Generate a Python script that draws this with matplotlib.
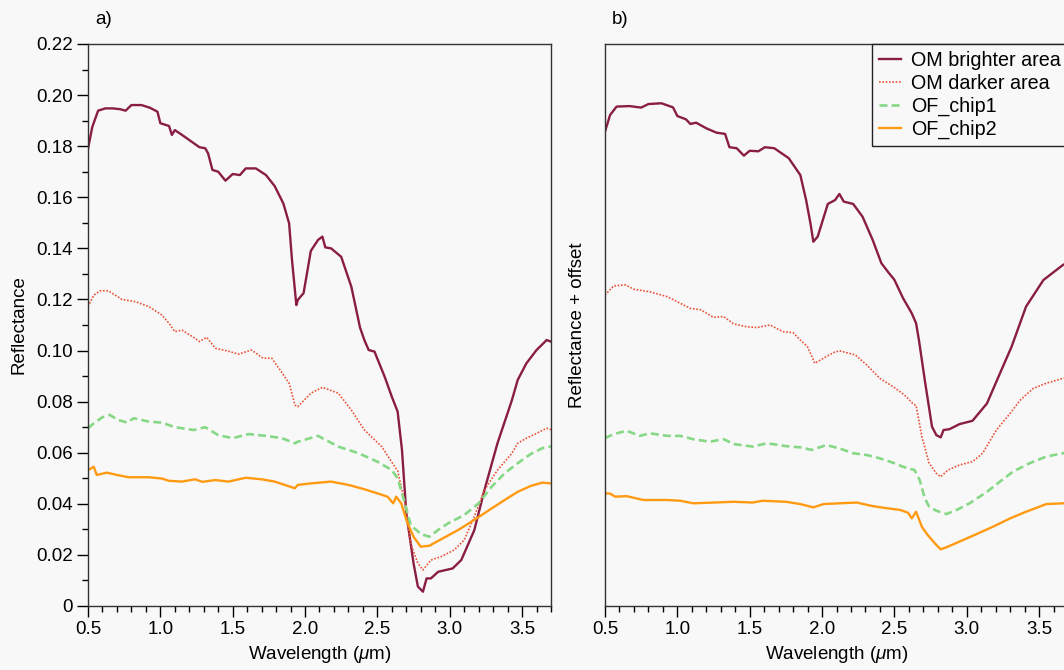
import matplotlib
matplotlib.use("Agg")
import matplotlib.pyplot as plt
from matplotlib.ticker import MultipleLocator, FuncFormatter

plt.rcParams['font.family'] = ['Liberation Sans', 'DejaVu Sans']
plt.rcParams['mathtext.fontset'] = 'custom'
plt.rcParams['mathtext.rm'] = 'Liberation Sans'
plt.rcParams['mathtext.it'] = 'Liberation Sans:italic'

# ---------------- data: panel a) reflectance ----------------
wl_bright_a = [0.50, 0.53, 0.57, 0.62, 0.67, 0.72, 0.76, 0.80, 0.87, 0.93, 0.98, 1.00, 1.06, 1.08, 1.10,
               1.15, 1.20, 1.27, 1.31, 1.33, 1.36, 1.40, 1.45, 1.50, 1.55, 1.59, 1.66, 1.73, 1.79, 1.85,
               1.89, 1.91, 1.94, 1.95, 1.99, 2.04, 2.09, 2.12, 2.14, 2.18, 2.25, 2.32, 2.38, 2.41, 2.44,
               2.48, 2.55, 2.60, 2.64, 2.67, 2.70, 2.75, 2.78, 2.815, 2.84, 2.87, 2.92, 3.02, 3.08, 3.17,
               3.24, 3.33, 3.43, 3.47, 3.53, 3.60, 3.67, 3.70]
om_bright_a = [0.179, 0.1876, 0.1939, 0.1948, 0.1948, 0.1945, 0.1939, 0.1961, 0.1961, 0.1950, 0.1935, 0.189,
               0.1879, 0.1844, 0.1863, 0.1844, 0.1824, 0.1796, 0.1792, 0.1772, 0.1707, 0.170, 0.1665, 0.1691,
               0.1687, 0.1713, 0.1713, 0.1687, 0.1644, 0.1576, 0.1498, 0.1354, 0.1178, 0.1198, 0.1225, 0.139,
               0.1433, 0.1446, 0.1404, 0.140, 0.1367, 0.125, 0.109, 0.1041, 0.1002, 0.0996, 0.0898, 0.0819,
               0.0761, 0.0611, 0.0363, 0.0167, 0.0076, 0.0056, 0.0108, 0.0108, 0.0134, 0.0147, 0.018, 0.0297,
               0.0454, 0.0637, 0.0806, 0.0885, 0.095, 0.1002, 0.1041, 0.1035]

wl_dark_a = [0.50, 0.54, 0.585, 0.64, 0.735, 0.83, 0.92, 1.01, 1.06, 1.10, 1.15, 1.24, 1.27, 1.32, 1.38,
             1.46, 1.54, 1.63, 1.71, 1.77, 1.82, 1.89, 1.93, 1.95, 2.04, 2.12, 2.23, 2.32, 2.41, 2.53,
             2.62, 2.64, 2.69, 2.73, 2.78, 2.815, 2.87, 2.94, 3.03, 3.10, 3.17, 3.24, 3.33, 3.43, 3.47,
             3.53, 3.58, 3.67, 3.70]
om_dark_a = [0.1172, 0.1217, 0.1234, 0.1234, 0.120, 0.1191, 0.1172, 0.1139, 0.1107, 0.1074, 0.108, 0.1048,
             0.1035, 0.1052, 0.1009, 0.0999, 0.0986, 0.1002, 0.097, 0.097, 0.093, 0.0872, 0.0787, 0.078,
             0.0833, 0.0856, 0.0833, 0.0767, 0.0689, 0.0624, 0.0545, 0.053, 0.0402, 0.0245, 0.0167, 0.0141,
             0.018, 0.0193, 0.0219, 0.0258, 0.035, 0.0454, 0.0532, 0.0598, 0.0637, 0.0657, 0.067, 0.0696, 0.069]

wl_chip1_a = [0.50, 0.54, 0.60, 0.65, 0.71, 0.77, 0.815, 0.92, 1.01, 1.10, 1.23, 1.31, 1.40, 1.50, 1.61,
              1.73, 1.84, 1.93, 1.95, 2.09, 2.23, 2.37, 2.50, 2.60, 2.64, 2.69, 2.73, 2.80, 2.86, 2.92,
              2.99, 3.10, 3.20, 3.29, 3.38, 3.47, 3.56, 3.64, 3.70]
of_chip1_a = [0.0696, 0.0715, 0.0739, 0.0748, 0.0728, 0.0718, 0.0735, 0.0722, 0.0718, 0.070, 0.0689, 0.070,
              0.0669, 0.0657, 0.0673, 0.0666, 0.0657, 0.0637, 0.0643, 0.0666, 0.0624, 0.0598, 0.0565, 0.0532,
              0.050, 0.0402, 0.0317, 0.0282, 0.0271, 0.0298, 0.0324, 0.0356, 0.0402, 0.0467, 0.052, 0.0559,
              0.0595, 0.0618, 0.0625]

wl_chip2_a = [0.50, 0.54, 0.56, 0.63, 0.70, 0.78, 0.92, 1.01, 1.06, 1.15, 1.24, 1.29, 1.38, 1.47, 1.59,
              1.70, 1.79, 1.86, 1.93, 1.95, 2.04, 2.18, 2.30, 2.41, 2.50, 2.57, 2.61, 2.63, 2.665, 2.70,
              2.75, 2.80, 2.86, 2.94, 3.06, 3.17, 3.29, 3.38, 3.47, 3.56, 3.64, 3.70]
of_chip2_a = [0.0532, 0.0545, 0.0513, 0.0522, 0.0513, 0.0504, 0.0504, 0.0499, 0.049, 0.0487, 0.0496, 0.0486,
              0.0493, 0.0487, 0.0502, 0.0496, 0.0487, 0.0474, 0.0461, 0.0474, 0.048, 0.0487, 0.0474, 0.0457,
              0.0441, 0.0428, 0.0402, 0.0428, 0.0402, 0.0337, 0.0271, 0.0232, 0.0236, 0.0261, 0.0298, 0.0337,
              0.0382, 0.0415, 0.0447, 0.047, 0.0483, 0.048]

# ---------------- data: panel b) reflectance + offset ----------------
wl_bright_b = [0.50, 0.535, 0.58, 0.67, 0.75, 0.80, 0.89, 0.97, 1.00, 1.06, 1.09, 1.13, 1.20, 1.27, 1.33,
               1.36, 1.41, 1.46, 1.50, 1.56, 1.605, 1.67, 1.77, 1.85, 1.89, 1.92, 1.94, 1.97, 2.04, 2.09,
               2.12, 2.15, 2.215, 2.28, 2.35, 2.41, 2.46, 2.50, 2.56, 2.62, 2.65, 2.67, 2.71, 2.76, 2.79,
               2.82, 2.84, 2.88, 2.95, 3.04, 3.14, 3.23, 3.31, 3.41, 3.53, 3.665, 3.70]
om_bright_b = [0.1857, 0.1922, 0.1955, 0.1957, 0.1951, 0.1965, 0.1968, 0.1952, 0.1918, 0.1905, 0.1887, 0.1892,
               0.187, 0.1853, 0.1848, 0.1796, 0.1792, 0.1763, 0.1782, 0.178, 0.1796, 0.1792, 0.1753, 0.1687,
               0.1589, 0.1498, 0.1426, 0.1446, 0.1574, 0.1589, 0.1613, 0.1583, 0.1574, 0.1524, 0.1433, 0.1342,
               0.1305, 0.1277, 0.1205, 0.1146, 0.1107, 0.104, 0.0885, 0.0702, 0.0669, 0.066, 0.0689, 0.0692,
               0.0712, 0.0725, 0.0793, 0.0911, 0.1015, 0.1172, 0.1276, 0.1335, 0.1345]

wl_dark_b = [0.50, 0.56, 0.64, 0.70, 0.81, 0.93, 1.02, 1.09, 1.16, 1.25, 1.32, 1.39, 1.48, 1.55, 1.64,
             1.73, 1.80, 1.85, 1.90, 1.95, 2.01, 2.08, 2.12, 2.23, 2.31, 2.40, 2.49, 2.57, 2.63, 2.65,
             2.69, 2.74, 2.79, 2.82, 2.87, 2.95, 3.04, 3.11, 3.205, 3.30, 3.37, 3.46, 3.55, 3.665, 3.70]
om_dark_b = [0.1217, 0.1253, 0.1257, 0.124, 0.123, 0.1211, 0.1185, 0.1165, 0.116, 0.113, 0.1133, 0.1104,
             0.1093, 0.109, 0.110, 0.1074, 0.107, 0.1041, 0.1015, 0.095, 0.097, 0.0992, 0.0999, 0.0983,
             0.0943, 0.0891, 0.0859, 0.0826, 0.0791, 0.0785, 0.0663, 0.0559, 0.0519, 0.0506, 0.0532, 0.0552,
             0.0565, 0.0598, 0.0689, 0.0754, 0.0806, 0.0852, 0.0872, 0.0891, 0.0895]

wl_chip1_b = [0.50, 0.56, 0.65, 0.74, 0.81, 0.93, 1.02, 1.11, 1.225, 1.32, 1.39, 1.52, 1.62, 1.75, 1.85,
              1.93, 2.03, 2.12, 2.215, 2.31, 2.40, 2.49, 2.56, 2.64, 2.675, 2.71, 2.74, 2.79, 2.86, 2.93,
              3.02, 3.14, 3.23, 3.32, 3.435, 3.55, 3.665, 3.70]
of_chip1_b = [0.0657, 0.0673, 0.0686, 0.0666, 0.0676, 0.0666, 0.0666, 0.0653, 0.0643, 0.0653, 0.0634, 0.0624,
              0.0637, 0.0626, 0.0621, 0.0611, 0.063, 0.0617, 0.0598, 0.0591, 0.0578, 0.0561, 0.0545, 0.0532,
              0.0493, 0.0422, 0.0389, 0.0373, 0.036, 0.0376, 0.0402, 0.0447, 0.0487, 0.0526, 0.0559, 0.0585,
              0.0598, 0.060]

wl_chip2_b = [0.50, 0.535, 0.57, 0.65, 0.765, 0.93, 1.02, 1.11, 1.25, 1.39, 1.52, 1.59, 1.75, 1.85, 1.94,
              2.01, 2.12, 2.24, 2.35, 2.445, 2.54, 2.595, 2.62, 2.65, 2.69, 2.73, 2.79, 2.82, 2.86, 2.95,
              3.07, 3.18, 3.30, 3.41, 3.55, 3.665, 3.70]
of_chip2_b = [0.0441, 0.044, 0.0428, 0.043, 0.0415, 0.0415, 0.0412, 0.0402, 0.0405, 0.0408, 0.0405, 0.0412,
              0.0408, 0.0399, 0.0386, 0.0399, 0.0402, 0.0405, 0.0391, 0.0383, 0.0376, 0.0365, 0.0343, 0.0369,
              0.031, 0.0278, 0.0239, 0.0222, 0.023, 0.0252, 0.0282, 0.031, 0.0343, 0.0369, 0.0399, 0.0402,
              0.0403]

series_names = ["OM brighter area", "OM darker area", "OF_chip1", "OF_chip2"]
x_ticks = [0.5, 1.0, 1.5, 2.0, 2.5, 3.0, 3.5]
y_ticks = [0, 0.02, 0.04, 0.06, 0.08, 0.10, 0.12, 0.14, 0.16, 0.18, 0.20, 0.22]

# ---------------- styles ----------------
styles = [
    dict(color='#8a1d45', lw=1.7, ls='-'),
    dict(color='#ea5238', lw=1.2, ls=(0, (1, 1))),
    dict(color='#86d886', lw=1.9, ls=(0, (3, 1.6))),
    dict(color='#ff9a12', lw=1.7, ls='-'),
]

bg = '#f8f8f8'
fig = plt.figure(figsize=(10.64, 6.70), dpi=100, facecolor=bg)
ax1 = fig.add_axes([88 / 1064, 1 - 606 / 670, 463 / 1064, 562 / 670])
ax2 = fig.add_axes([605 / 1064, 1 - 606 / 670, 463 / 1064, 562 / 670])

data_a = [(wl_bright_a, om_bright_a), (wl_dark_a, om_dark_a), (wl_chip1_a, of_chip1_a), (wl_chip2_a, of_chip2_a)]
data_b = [(wl_bright_b, om_bright_b), (wl_dark_b, om_dark_b), (wl_chip1_b, of_chip1_b), (wl_chip2_b, of_chip2_b)]

for ax, data in ((ax1, data_a), (ax2, data_b)):
    ax.set_facecolor(bg)
    for (x, y), name, st in zip(data, series_names, styles):
        ax.plot(x, y, label=name, color=st['color'], lw=st['lw'], linestyle=st['ls'])
    ax.set_xlim(0.5, 3.7)
    ax.set_ylim(0, 0.22)
    ax.set_xticks(x_ticks)
    ax.xaxis.set_minor_locator(MultipleLocator(0.1))
    ax.xaxis.set_major_formatter(FuncFormatter(lambda v, p: f"{v:.1f}"))
    ax.tick_params(axis='x', which='major', direction='out', length=8, width=1, labelsize=13.5, pad=3)
    ax.tick_params(axis='x', which='minor', direction='out', length=4, width=1)
    for s in ax.spines.values():
        s.set_color('#333333')
        s.set_linewidth(1.0)
    ax.set_xlabel(r'Wavelength ($\mu$m)', fontsize=13.5, labelpad=4)

ax1.set_yticks(y_ticks)
ax1.yaxis.set_minor_locator(MultipleLocator(0.01))
ax1.yaxis.set_major_formatter(FuncFormatter(lambda v, p: "0" if abs(v) < 1e-9 else f"{v:.2f}"))
ax1.tick_params(axis='y', which='major', direction='out', length=8, width=1, labelsize=13.5, pad=3)
ax1.tick_params(axis='y', which='minor', direction='out', length=4, width=1)
ax1.set_ylabel('Reflectance', fontsize=13.5, labelpad=6)

ax2.set_yticks([])
ax2.tick_params(axis='y', which='both', left=False, labelleft=False)
ax2.set_ylabel('Reflectance + offset', fontsize=13.5, labelpad=14)

leg = ax2.legend(loc='upper right', bbox_to_anchor=(1.0, 1.0), borderaxespad=0,
                 fancybox=False, framealpha=1, edgecolor='#222222', facecolor=bg, fontsize=14.2,
                 handlelength=1.15, handletextpad=0.5, labelspacing=0.2, borderpad=0.35)
leg.get_frame().set_linewidth(1.0)

fig.text(95 / 1064, 1 - 20 / 670, 'a)', fontsize=13.5, va='center', ha='left')
fig.text(612 / 1064, 1 - 20 / 670, 'b)', fontsize=13.5, va='center', ha='left')

fig.savefig('out.png', dpi=100, facecolor=bg)
